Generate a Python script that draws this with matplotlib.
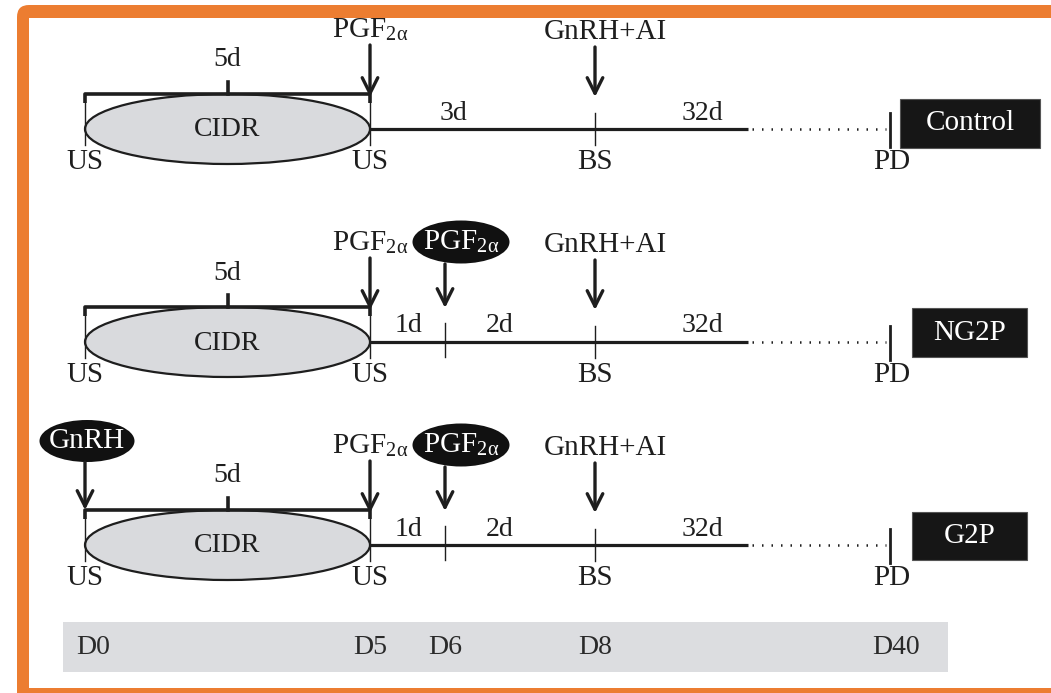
import matplotlib.pyplot as plt
from matplotlib.patches import Ellipse, Rectangle, FancyBboxPatch

plt.rcParams['font.family'] = ['Liberation Serif', 'DejaVu Serif']
plt.rcParams['mathtext.fontset'] = 'stix'

# protocol data
groups = ['Control', 'NG2P', 'G2P']
days = [0, 5, 6, 8, 40]
day_labels = ['D0', 'D5', 'D6', 'D8', 'D40']
cidr_days = (0, 5)
segments = {
    'Control': [('3d', 5, 8), ('32d', 8, 40)],
    'NG2P': [('1d', 5, 6), ('2d', 6, 8), ('32d', 8, 40)],
    'G2P': [('1d', 5, 6), ('2d', 6, 8), ('32d', 8, 40)],
}
second_pgf = {'Control': False, 'NG2P': True, 'G2P': True}
gnrh_d0 = {'Control': False, 'NG2P': False, 'G2P': True}

# layout (pixels)
day_x = dict(zip(days, [85, 370, 445, 595, 890]))
row_y = [129, 342, 545]
seg_lab_x = {'3d': 453, '1d': 408, '2d': 500, '32d': 702}
box = {'Control': (900, 1040, -30, 19), 'NG2P': (912, 1027, -34, 15), 'G2P': (912, 1027, -33, 15)}
ink = '#1e1e1e'
orange = '#ec7d31'

fig = plt.figure(figsize=(10.51, 6.93), dpi=100)
ax = fig.add_axes([0, 0, 1, 1])
ax.set_xlim(0, 1051)
ax.set_ylim(693, 0)
ax.axis('off')

# orange frame
ax.add_patch(FancyBboxPatch((17, 5), 1100, 750, boxstyle='round,pad=0,rounding_size=12',
                            fc=orange, ec='none'))
ax.add_patch(Rectangle((29, 18), 1100, 670, fc='white', ec='none'))


def arrow(x, y0, y1):
    ax.annotate('', xy=(x, y1), xytext=(x, y0),
                arrowprops=dict(arrowstyle='->', lw=2.4, color=ink, mutation_scale=28,
                                shrinkA=0, shrinkB=0))


pgf = r'PGF$_{\mathregular{2α}}$'
x0, x5 = day_x[cidr_days[0]], day_x[cidr_days[1]]
for g, y in zip(groups, row_y):
    # CIDR ellipse
    ax.add_patch(Ellipse(((x0 + x5) / 2, y), x5 - x0, 70, fc='#d9dadd', ec=ink, lw=1.6))
    ax.text((x0 + x5) / 2, y + 1, 'CIDR', ha='center', va='center', fontsize=20, color=ink)
    # bracket 5d
    yb = y - 35
    ax.plot([x0, x0, x5, x5], [yb + 9, yb, yb, yb + 9], color=ink, lw=2.6, solid_capstyle='butt')
    ax.plot([(x0 + x5) / 2] * 2, [yb, yb - 12], color=ink, lw=2.6)
    ax.text((x0 + x5) / 2, yb - 34, '5d', ha='center', va='center', fontsize=20, color=ink)
    # main line
    ax.plot([x5, 748], [y, y], color=ink, lw=2.3, solid_capstyle='butt')
    ax.plot([752, day_x[40] - 4], [y, y], color=ink, lw=1.8, ls=(0, (0.6, 3.2)))
    # ticks
    for d in (0, 5):
        ax.plot([day_x[d]] * 2, [y - 26, y + 16], color=ink, lw=1.0)
    ax.plot([day_x[8]] * 2, [y - 16, y + 16], color=ink, lw=1.0)
    ax.plot([day_x[40]] * 2, [y - 16, y + 18], color=ink, lw=2.0)
    if second_pgf[g]:
        ax.plot([day_x[6]] * 2, [y - 19, y + 15], color=ink, lw=1.0)
    # labels under
    for d, lab in [(0, 'US'), (5, 'US'), (8, 'BS'), (40, 'PD')]:
        ax.text(day_x[d] + (2 if d == 40 else 0), y + 33, lab, ha='center', va='center',
                fontsize=21, color=ink)
    for lab, a, b in segments[g]:
        ax.text(seg_lab_x[lab], y - 16, lab, ha='center', va='center', fontsize=20, color=ink)
    # PGF at D5
    ax.text(day_x[5], y - 99, pgf, ha='center', va='center', fontsize=21, color=ink)
    arrow(day_x[5], y - 84, y - 32)
    # GnRH+AI at D8
    ax.text(day_x[8] + 10, y - 97, 'GnRH+AI', ha='center', va='center', fontsize=21, color=ink)
    arrow(day_x[8], y - 82, y - 32)
    # second PGF
    if second_pgf[g]:
        ax.add_patch(Ellipse((day_x[6] + 16, y - 100), 97, 43, fc='#111111', ec='none'))
        ax.text(day_x[6] + 16, y - 100, pgf, ha='center', va='center', fontsize=21, color='white')
        arrow(day_x[6], y - 78, y - 34)
    # GnRH at D0
    if gnrh_d0[g]:
        ax.add_patch(Ellipse((day_x[0] + 2, y - 104), 95, 42, fc='#111111', ec='none'))
        ax.text(day_x[0] + 2, y - 104, 'GnRH', ha='center', va='center', fontsize=21, color='white')
        arrow(day_x[0], y - 83, y - 35)
    # group box
    bx0, bx1, by0, by1 = box[g]
    ax.add_patch(Rectangle((bx0, y + by0), bx1 - bx0, by1 - by0, fc='#161616', ec='#555555', lw=0.8))
    ax.text((bx0 + bx1) / 2, y + (by0 + by1) / 2, g, ha='center', va='center',
            fontsize=21, color='white')

# day bar
ax.add_patch(Rectangle((63, 622), 948 - 63, 50, fc='#dcdde0', ec='none'))
for d, lab in zip(days, day_labels):
    off = 8 if d == 0 else (6 if d == 40 else 0)
    ax.text(day_x[d] + off, 648, lab, ha='center', va='center', fontsize=20, color='#2a2a2a')

fig.savefig('out.png', dpi=100)
